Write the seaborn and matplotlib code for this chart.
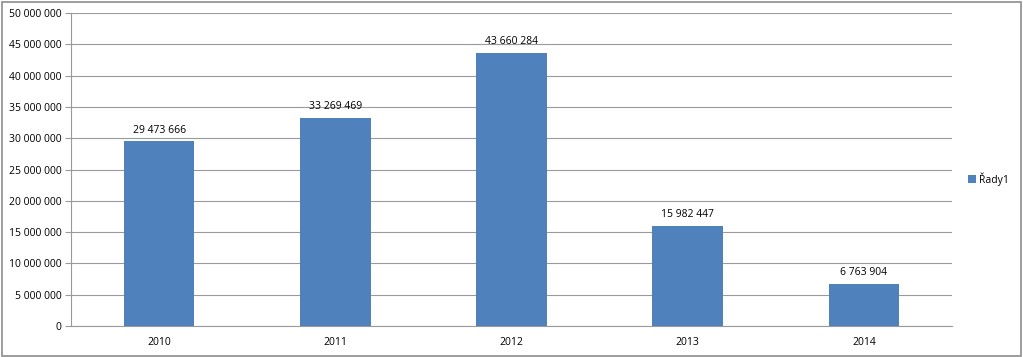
import numpy as np
import pandas as pd
import matplotlib
matplotlib.use("Agg")
import matplotlib.pyplot as plt
import seaborn as sns
from matplotlib.patches import Rectangle

years = ["2010", "2011", "2012", "2013", "2014"]
values = [29473666, 33269469, 43660284, 15982447, 6763904]
series_name = "Řady1"
y_ticks = [0, 5000000, 10000000, 15000000, 20000000, 25000000,
           30000000, 35000000, 40000000, 45000000, 50000000]

sns.set_theme(style="white")
plt.rcParams['font.family'] = ['Open Sans', 'DejaVu Sans']
plt.rcParams['text.color'] = 'black'
plt.rcParams['xtick.color'] = 'black'
plt.rcParams['ytick.color'] = 'black'

BAR = "#4f81bd"
GRID = "#9a9a9a"


def fmt(v):
    return f"{int(v):,}".replace(",", " ")


df = pd.DataFrame({"year": years, "value": values})

fig = plt.figure(figsize=(10.23, 3.57), dpi=100)
ax = fig.add_axes([71 / 1023, 31 / 357, 881 / 1023, 313 / 357])

sns.barplot(data=df, x="year", y="value", color=BAR, width=0.4,
            saturation=1, ax=ax, label=series_name, linewidth=0)

ax.set_xlim(-0.5, 4.5)
ax.set_ylim(0, 50000000)
ax.set_yticks(y_ticks)
ax.set_yticklabels([fmt(t) for t in y_ticks], fontsize=7.5)
ax.set_xlabel("")
ax.set_ylabel("")
ax.tick_params(axis="x", which="major", length=0, labelsize=7.5, pad=8,
               labelcolor="black")
ax.set_xticks(np.arange(-0.5, 5, 1), minor=True)
ax.tick_params(axis="x", which="minor", length=4, color=GRID, width=0.8)
ax.tick_params(axis="y", length=4, color=GRID, width=0.8, left=True, pad=3,
               labelcolor="black")
ax.yaxis.grid(True, color=GRID, linewidth=0.8)
ax.set_axisbelow(True)
for s in ["top", "right"]:
    ax.spines[s].set_visible(False)
for s in ["left", "bottom"]:
    ax.spines[s].set_color(GRID)
    ax.spines[s].set_linewidth(0.8)

ax.bar_label(ax.containers[0], labels=[fmt(v) for v in values],
             fontsize=7.5, padding=4, color="black")

leg = ax.legend(loc="center left", bbox_to_anchor=(1.008, 0.47),
                frameon=False, fontsize=7.5, handlelength=0.7,
                handleheight=0.7, handletextpad=0.3)

# outer chart border
fig.patches.append(Rectangle((0.002, 0.004), 0.996, 0.99, transform=fig.transFigure,
                             fill=False, edgecolor="#8c8c8c", linewidth=1.2))

fig.savefig("out.png", dpi=100)
